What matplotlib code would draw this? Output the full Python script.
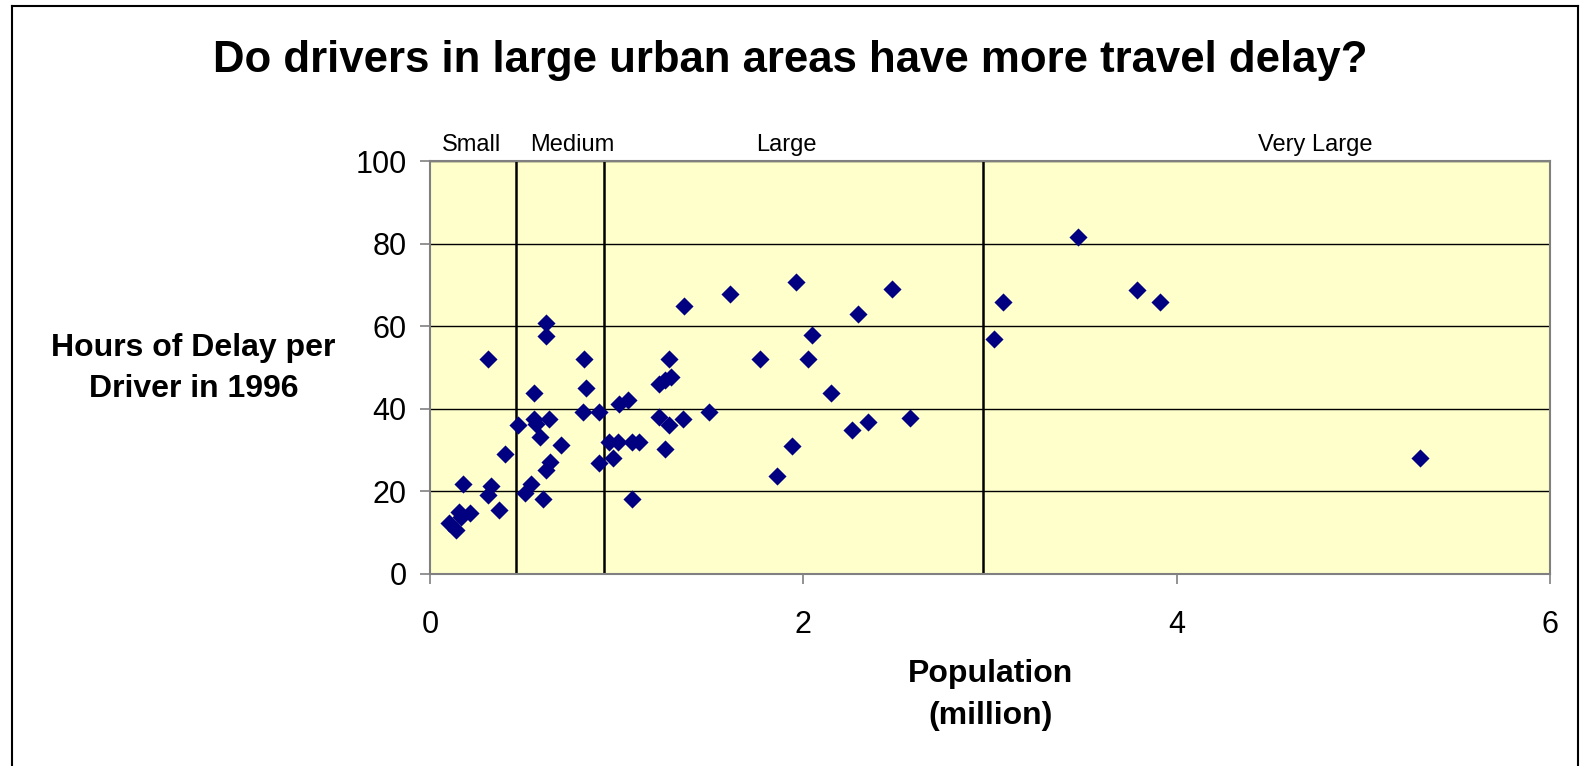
import matplotlib.pyplot as plt
from matplotlib.lines import Line2D

# population (million) and hours of delay per driver
pop = [0.10, 0.139, 0.166, 0.157, 0.178, 0.216, 0.309, 0.327, 0.31, 0.371,
       0.40, 0.473, 0.509, 0.541, 0.557, 0.555, 0.567, 0.59, 0.603, 0.621,
       0.644, 0.621, 0.621, 0.639, 0.701, 0.824, 0.835, 0.817, 0.903, 0.903,
       0.960, 0.981, 1.005, 1.013, 1.058, 1.080, 1.121, 1.081, 1.228, 1.281,
       1.228, 1.26, 1.29, 1.281, 1.26, 1.353, 1.358, 1.495, 1.604, 1.770,
       1.859, 1.938, 1.959, 2.027, 2.047, 2.150, 2.259, 2.295, 2.348, 2.472,
       2.571, 3.021, 3.067, 3.472, 3.787, 3.910, 5.304]
delay = [12.3, 10.6, 13.9, 15.1, 21.9, 14.8, 19.1, 21.3, 52.0, 15.6,
         29.1, 36.0, 19.5, 21.9, 43.9, 37.6, 36.4, 33.1, 18.1, 25.2,
         27.2, 60.8, 57.6, 37.6, 31.2, 52.0, 45.0, 39.3, 39.2, 26.8,
         32.0, 28.1, 32.0, 41.1, 42.1, 32.0, 32.0, 18.1, 37.9, 36.0,
         46.1, 46.9, 47.7, 52.0, 30.2, 37.6, 65.0, 39.2, 67.9, 52.1,
         23.8, 31.0, 70.8, 52.1, 57.8, 43.9, 34.8, 63.0, 36.8, 68.9,
         37.7, 56.9, 65.9, 81.7, 68.8, 65.9, 28.1]

size_limits = [0.46, 0.93, 2.96]
size_names = ['Small', 'Medium', 'Large', 'Very Large']
size_label_x = [0.22, 0.76, 1.91, 4.74]

plt.rcParams['font.family'] = ['Liberation Sans', 'DejaVu Sans']

fig = plt.figure(figsize=(15.8, 7.66), dpi=100)
ax = fig.add_axes([0.2722, 0.2507, 0.7089, 0.5391])
ax.set_facecolor('#FFFFCC')

ax.scatter(pop, delay, marker='D', s=85, color='#000080', zorder=3, linewidths=0)

for v in size_limits:
    ax.axvline(v, color='black', lw=1.8, zorder=2)
for name, xl in zip(size_names, size_label_x):
    ax.text(xl, 101.3, name, ha='center', va='bottom', fontsize=17,
            family=['Liberation Sans Narrow', 'Liberation Sans'])

ax.set_xlim(0, 6)
ax.set_ylim(0, 100)
ax.set_xticks([0, 2, 4, 6])
ax.set_yticks([0, 20, 40, 60, 80, 100])
ax.yaxis.grid(True, color='black', lw=1.0)
ax.set_axisbelow(True)
for s in ax.spines.values():
    s.set_color('#808080')
    s.set_linewidth(1.5)
ax.tick_params(axis='both', labelsize=22, color='#808080', length=7, width=1.2, direction='out')
ax.tick_params(axis='x', pad=19)
ax.tick_params(axis='y', pad=10)

fig.text(0.5, 0.921, 'Do drivers in large urban areas have more travel delay?',
         ha='center', va='center', fontsize=31.5, fontweight='bold')
fig.text(0.627, 0.0927, 'Population\n(million)', ha='center', va='center',
         fontsize=23, fontweight='bold', linespacing=1.53)
fig.text(0.1225, 0.519, 'Hours of Delay per\nDriver in 1996', ha='center', va='center',
         fontsize=23, fontweight='bold', linespacing=1.48)

# frame around the whole chart
fig.add_artist(Line2D([12/1580, 12/1580], [0, 1 - 6/766], color='black', lw=1.5))
fig.add_artist(Line2D([12/1580, 1578/1580], [1 - 6/766, 1 - 6/766], color='black', lw=1.5))
fig.add_artist(Line2D([1578/1580, 1578/1580], [0, 1 - 6/766], color='black', lw=1.5))

fig.savefig('out.png', dpi=100)
